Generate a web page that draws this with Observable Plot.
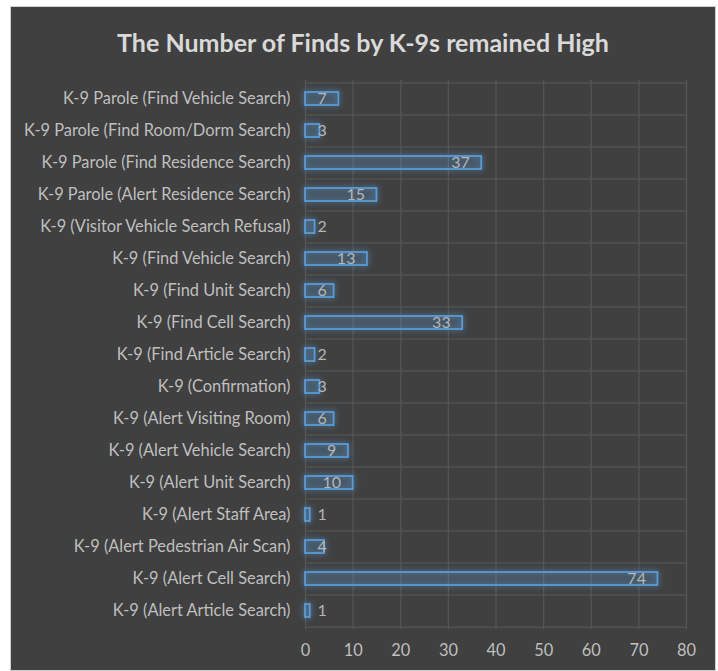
<!DOCTYPE html>
<html>
<head>
<meta charset="utf-8">
<script src="https://cdn.jsdelivr.net/npm/d3@7"></script>
<script src="https://cdn.jsdelivr.net/npm/@observablehq/plot@0.6"></script>
<style>
  html, body { margin: 0; padding: 0; background: #ffffff; }
  #panel {
    position: absolute; left: 10px; top: 6px; width: 704px; height: 663px;
    background: #404040; border: 1px solid #cfcfcf; overflow: hidden;
  }
  #title {
    height: 60px; line-height: 70px; text-align: center;
    font-family: Lato, sans-serif; font-weight: bold; font-size: 25px; color: #d9d9d9;
  }
</style>
</head>
<body>
<div id="panel">
  <div id="title">The Number of Finds by K-9s remained High</div>
  <div id="chart"></div>
</div>
<script>
const categories = [
  "K-9 Parole (Find Vehicle Search)",
  "K-9 Parole (Find Room/Dorm Search)",
  "K-9 Parole (Find Residence Search)",
  "K-9 Parole (Alert Residence Search)",
  "K-9 (Visitor Vehicle Search Refusal)",
  "K-9 (Find Vehicle Search)",
  "K-9 (Find Unit Search)",
  "K-9 (Find Cell Search)",
  "K-9 (Find Article Search)",
  "K-9 (Confirmation)",
  "K-9 (Alert Visiting Room)",
  "K-9 (Alert Vehicle Search)",
  "K-9 (Alert Unit Search)",
  "K-9 (Alert Staff Area)",
  "K-9 (Alert Pedestrian Air Scan)",
  "K-9 (Alert Cell Search)",
  "K-9 (Alert Article Search)"
];
const values = [7, 3, 37, 15, 2, 13, 6, 33, 2, 3, 6, 9, 10, 1, 4, 74, 1];
const xTicks = [0, 10, 20, 30, 40, 50, 60, 70, 80];

const data = categories.map((c, i) => ({category: c, value: values[i]}));

const W = 704, H = 603, mT = 13, mB = 41, mL = 294, mR = 29;
const step = (H - mT - mB) / categories.length;
const grid = "#555555";
const txt = "#bfbfbf";

const chart = Plot.plot({
  width: W, height: H,
  marginTop: mT, marginBottom: mB, marginLeft: mL, marginRight: mR,
  style: {background: "transparent", fontFamily: "Lato, sans-serif", fontSize: "16.4px", color: txt},
  x: {domain: [0, 80], ticks: xTicks, label: null, tickSize: 0, tickPadding: 15, tickFormat: d => String(d)},
  y: {domain: categories, paddingInner: 0.6, paddingOuter: 0.3, label: null, tickSize: 0, tickPadding: 15},
  marks: [
    Plot.ruleX(xTicks, {stroke: grid, strokeWidth: 1.3}),
    Plot.ruleY(categories, {y: d => d, dy: -step / 2, stroke: grid, strokeWidth: 1.3}),
    Plot.ruleY([categories[categories.length - 1]], {y: d => d, dy: step / 2, stroke: grid, strokeWidth: 1.3}),
    Plot.barX(data, {x: "value", y: "category", fill: "#5b9bd5", fillOpacity: 0.12, stroke: "#5b9bd5", strokeWidth: 1.8}),
    Plot.text(data, {x: d => Math.max(d.value, 7), y: "category", text: d => String(d.value), textAnchor: "end", dx: -12, fill: "#b5b5b5", fontSize: 16})
  ]
});
document.getElementById("chart").appendChild(chart);
d3.select(chart).selectAll('g[aria-label="bar"] rect').style("filter", "drop-shadow(0 0 3px rgba(91,155,213,0.95))");
</script>
</body>
</html>
